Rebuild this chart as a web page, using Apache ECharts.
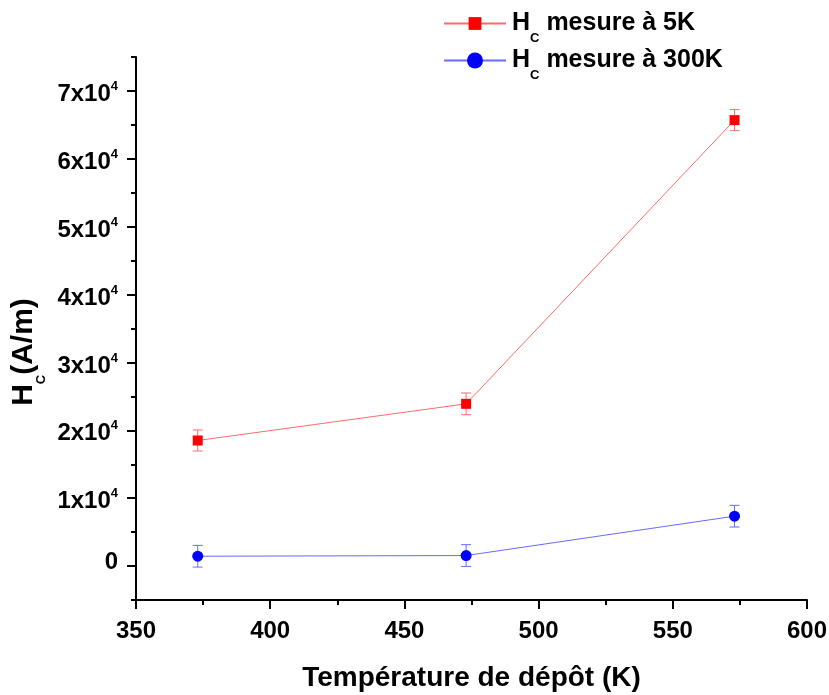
<!DOCTYPE html>
<html>
<head>
<meta charset="utf-8">
<script src="https://cdn.jsdelivr.net/npm/echarts@6/dist/echarts.min.js"></script>
<style>
html,body{margin:0;padding:0;background:#fff;}
#chart{width:829px;height:695px;}
</style>
</head>
<body>
<div id="chart"></div>
<script>
// ---- data ----
const xValues = [373, 473, 573];
const hc5K = [18500, 23900, 65700];
const err5K = [1550, 1600, 1550];
const hc300K = [1450, 1550, 7350];
const err300K = [1600, 1600, 1600];
const yMajorTicks = [0, 10000, 20000, 30000, 40000, 50000, 60000, 70000];
const yMinorTicks = [-5000, 5000, 15000, 25000, 35000, 45000, 55000, 65000, 75000];
const xTicks = [350, 400, 450, 500, 550, 600];
const seriesNames = ['Hc mesure à 5K', 'Hc mesure à 300K'];
const legendSuffix = [' mesure à 5K', ' mesure à 300K'];

const FONT = '"Liberation Sans", Arial, sans-serif';
const red = '#ff0000', redLine = '#ff6a6a';
const blue = '#0000ff', blueLine = '#6a6aff';

function errData(vals, errs) {
  return xValues.map((x, i) => [x, vals[i] - errs[i], vals[i] + errs[i]]);
}
function errRenderer(color) {
  return function (params, api) {
    const x = api.value(0), lo = api.value(1), hi = api.value(2);
    const a = api.coord([x, lo]), b = api.coord([x, hi]);
    const hw = 5;
    const st = { stroke: color, lineWidth: 1 };
    return {
      type: 'group',
      children: [
        { type: 'line', shape: { x1: a[0], y1: a[1], x2: b[0], y2: b[1] }, style: st },
        { type: 'line', shape: { x1: a[0] - hw, y1: a[1], x2: a[0] + hw, y2: a[1] }, style: st },
        { type: 'line', shape: { x1: b[0] - hw, y1: b[1], x2: b[0] + hw, y2: b[1] }, style: st }
      ]
    };
  };
}

const legendRich = {
  h: { fontFamily: FONT, fontWeight: 'bold', fontSize: 25, color: '#000', padding: [0, 0, 0, 1] },
  s: { fontFamily: FONT, fontWeight: 'bold', fontSize: 13, color: '#000', padding: [30, 0, 0, 0] },
  t: { fontFamily: FONT, fontWeight: 'bold', fontSize: 25, color: '#000' }
};
function legendFormatter(name) {
  const i = seriesNames.indexOf(name);
  return '{h|H}{s|C}{t|' + legendSuffix[i] + '}';
}

const chart = echarts.init(document.getElementById('chart'), null, { renderer: 'canvas' });
chart.setOption({
  animation: false,
  backgroundColor: '#fff',
  grid: { left: 136, right: 22, top: 57, bottom: 95, containLabel: false, outerBoundsMode: 'none' },
  legend: [{
    orient: 'vertical', left: 443, top: 11, padding: 0,
    itemWidth: 62, itemHeight: 16,
    data: [seriesNames[0]],
    formatter: legendFormatter,
    textStyle: { rich: legendRich }
  }, {
    orient: 'vertical', left: 443, top: 48, padding: 0,
    itemWidth: 62, itemHeight: 20,
    data: [seriesNames[1]],
    formatter: legendFormatter,
    textStyle: { rich: legendRich }
  }],
  xAxis: {
    type: 'value',
    min: 350, max: 600, interval: 50,
    name: 'Température de dépôt (K)',
    nameLocation: 'middle',
    nameGap: 64,
    nameTextStyle: { fontFamily: FONT, fontWeight: 'bold', fontSize: 28, color: '#000' },
    axisLine: { show: true, onZero: false, lineStyle: { color: '#000', width: 2 } },
    axisTick: { show: true, inside: false, length: 9, lineStyle: { color: '#000', width: 2 }, customValues: xTicks },
    minorTick: { show: true, splitNumber: 2, length: 5, lineStyle: { color: '#000', width: 2 } },
    axisLabel: { fontFamily: FONT, fontWeight: 'bold', fontSize: 24, color: '#000', margin: 19 },
    splitLine: { show: false }
  },
  yAxis: [{
    type: 'value',
    min: -5000, max: 75000,
    axisLine: { show: true, onZero: false, lineStyle: { color: '#000', width: 2 } },
    axisTick: { show: true, length: 9, lineStyle: { color: '#000', width: 2 }, customValues: yMajorTicks },
    axisLabel: {
      customValues: yMajorTicks,
      margin: 18,
      formatter: function (v) {
        if (v === 0) return '{z|0}';
        return '{b|' + (v / 10000) + 'x10}{sup|4}';
      },
      rich: {
        z: { fontFamily: FONT, fontWeight: 'bold', fontSize: 24, color: '#000', padding: [0, 0, 7, 0] },
        b: { fontFamily: FONT, fontWeight: 'bold', fontSize: 24, color: '#000', padding: [7, 0, 0, 0] },
        sup: { fontFamily: FONT, fontWeight: 'bold', fontSize: 13, color: '#000', padding: [0, 0, 9, 0] }
      }
    },
    splitLine: { show: false }
  }, {
    type: 'value',
    position: 'left',
    min: -5000, max: 75000,
    axisLine: { show: false },
    axisTick: { show: true, length: 5, lineStyle: { color: '#000', width: 2 }, customValues: yMinorTicks },
    axisLabel: { show: false },
    splitLine: { show: false }
  }],
  series: [
    {
      name: 'err5K', type: 'custom', xAxisIndex: 0, yAxisIndex: 0,
      renderItem: errRenderer(redLine), data: errData(hc5K, err5K), z: 2, silent: true
    },
    {
      name: 'err300K', type: 'custom', xAxisIndex: 0, yAxisIndex: 0,
      renderItem: errRenderer(blueLine), data: errData(hc300K, err300K), z: 2, silent: true
    },
    {
      name: seriesNames[0], type: 'line', yAxisIndex: 0,
      data: xValues.map((x, i) => [x, hc5K[i]]),
      symbol: 'rect', symbolSize: 10,
      itemStyle: { color: red },
      lineStyle: { color: redLine, width: 1 },
      z: 3
    },
    {
      name: seriesNames[1], type: 'line', yAxisIndex: 0,
      data: xValues.map((x, i) => [x, hc300K[i]]),
      symbol: 'circle', symbolSize: 11,
      itemStyle: { color: blue },
      lineStyle: { color: blueLine, width: 1 },
      z: 3
    }
  ],
  graphic: [{
    type: 'text',
    x: 24, y: 352,
    rotation: Math.PI / 2,
    style: {
      text: '{h|H}{s|C}{h|(A/m)}',
      align: 'center',
      verticalAlign: 'middle',
      rich: {
        h: { fontFamily: FONT, fontWeight: 'bold', fontSize: 30, color: '#000' },
        s: { fontFamily: FONT, fontWeight: 'bold', fontSize: 13, color: '#000', padding: [34, 0, 0, 0] }
      }
    }
  }]
});
</script>
</body>
</html>
